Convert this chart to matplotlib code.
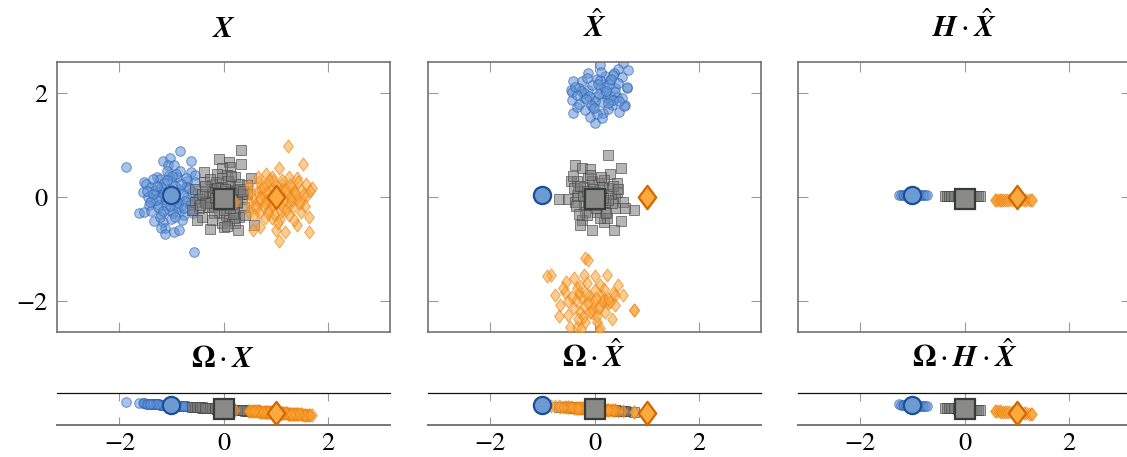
import matplotlib
matplotlib.use("Agg")
import matplotlib.pyplot as plt
from matplotlib.path import Path

plt.rcParams["font.family"] = "STIXGeneral"
plt.rcParams["mathtext.fontset"] = "stix"

# ---------------------------------------------------------------- data
# class anchors (large markers)
anchor_x = [-1.0, 0.0, 1.0]
anchor_y = [0.04, -0.045, 0.005]

# X : original samples
X_blue_x = [-1.87, -0.84, -1.16, -1.02, -1.07, -0.96, -0.62, -0.62, -0.83, -0.54,
            -1.53, -1.49, -1.54, -1.39, -1.28, -1.23, -1.05, -0.89, -0.73, -1.28,
            -1.24, -1.18, -0.70, -0.63, -0.51, -0.54, -1.44, -1.24, -1.62, -1.53,
            -1.40, -1.20, -1.05, -0.86, -0.75, -1.33, -1.16, -1.12, -1.20, -0.96,
            -0.86, -1.12, -0.56, -0.79, -0.89, -1.11, -1.37, -1.31, -0.59, -0.51,
            -1.05, -0.95, -1.10, -0.85, -1.00, -0.90, -1.20, -0.78, -1.15, -0.98,
            -0.70, -1.35, -0.60, -0.65, -1.45, -0.80, -1.00, -1.25, -0.92, -1.08,
            -1.30, -1.14, -0.74, -0.67, -0.94, -1.22, -1.02, -0.88, -1.47, -0.72,
            -1.17, -0.81, -1.36, -0.99, -0.58, -1.27, -0.93, -1.09, -0.76, -1.41]
X_blue_y = [0.57, 0.89, 0.69, 0.76, 0.62, 0.62, 0.69, 0.49, 0.50, 0.42,
            0.29, 0.26, 0.10, 0.20, 0.39, 0.35, 0.42, 0.39, 0.20, 0.10,
            0.00, 0.16, 0.00, -0.09, 0.07, 0.29, -0.15, -0.15, -0.31, -0.28,
            -0.27, -0.33, -0.25, -0.28, -0.35, -0.46, -0.49, -0.60, -0.60, -0.68,
            -0.64, -0.72, -1.05, -0.15, -0.09, -0.06, -0.06, 0.13, -0.25, -0.03,
            0.10, -0.05, -0.15, 0.15, 0.30, -0.20, 0.20, 0.05, 0.05, -0.30,
            0.30, 0.35, 0.10, -0.15, 0.00, -0.45, -0.42, -0.20, 0.45, 0.50,
            -0.05, 0.27, -0.07, 0.18, 0.22, -0.38, -0.18, -0.12, 0.12, 0.36,
            -0.26, 0.26, 0.05, 0.40, -0.30, 0.22, -0.38, 0.33, -0.22, -0.10]

X_gray_x = [0.33, -0.09, 0.10, 0.13, 0.34, -0.02, -0.13, -0.38, 0.07, 0.23,
            0.52, -0.38, -0.23, 0.13, 0.29, 0.45, -0.54, -0.35, -0.15, 0.23,
            -0.47, -0.54, -0.28, -0.25, -0.22, -0.47, -0.60, -0.41, -0.51, -0.09,
            0.04, 0.20, 0.29, 0.10, -0.03, 0.23, -0.26, 0.01, 0.28, 0.58,
            0.26, 0.36, 0.45, -0.15, -0.02, -0.35, -0.09, 0.13, 0.17,
            0.05, -0.10, 0.15, -0.20, 0.00, 0.35, -0.30, 0.20, 0.40, -0.05,
            -0.42, 0.08, -0.18, 0.31, -0.33, 0.18, -0.07, 0.42, -0.26, 0.12,
            -0.12, 0.25, -0.45, 0.02, 0.38, -0.22, 0.14, -0.36, 0.06, -0.16]
X_gray_y = [0.90, 0.73, 0.67, 0.58, 0.63, 0.55, 0.45, 0.48, 0.42, 0.39,
            0.36, 0.29, 0.23, 0.23, 0.26, 0.23, 0.16, 0.11, 0.13, 0.13,
            -0.03, -0.09, 0.00, -0.09, -0.19, -0.22, -0.25, -0.38, -0.44, -0.28,
            -0.35, -0.28, -0.38, -0.44, -0.50, -0.50, -0.62, -0.58, -0.64, -0.53,
            -0.12, -0.03, 0.06, 0.29, 0.36, -0.09, -0.15, -0.15, -0.06,
            0.05, -0.05, 0.10, 0.10, -0.25, 0.05, -0.20, -0.40, -0.20, 0.20,
            0.06, 0.30, -0.30, 0.15, -0.12, -0.32, 0.02, -0.35, 0.35, -0.22,
            0.18, -0.10, -0.15, 0.16, 0.12, -0.45, 0.40, 0.22, -0.55, -0.02]

X_orange_x = [1.24, 1.52, 1.07, 0.81, 0.94, 1.26, 1.42, 0.49, 0.68, 0.84,
              1.13, 1.32, 1.58, 1.71, 1.48, 0.55, 0.49, 0.74, 1.22, 1.39,
              1.61, 1.48, 1.26, 0.77, 0.49, 0.68, 0.87, 1.10, 1.26, 1.48,
              1.64, 0.94, 0.71, 0.57, 1.00, 1.19, 1.42, 1.64, 1.07, 0.23,
              0.81, 1.00, 0.68, 1.13, 0.94,
              1.05, 0.90, 1.15, 0.95, 1.30, 0.65, 1.35, 0.80, 1.20, 0.60,
              0.72, 1.36, 0.88, 1.54, 0.62, 1.17, 0.98, 1.44, 0.79, 1.28,
              0.53, 1.09, 0.91, 1.56, 0.70, 1.33, 0.84, 1.02, 1.45, 0.66,
              1.21, 0.96, 1.38, 0.58, 1.12, 0.86, 1.67, 0.75, 1.04, 1.30]
X_orange_y = [0.98, 0.63, 0.55, 0.45, 0.39, 0.39, 0.36, 0.23, 0.29, 0.23,
              0.26, 0.20, 0.26, 0.18, 0.13, 0.00, -0.12, 0.07, 0.04, -0.03,
              0.04, -0.09, -0.15, -0.18, -0.28, -0.31, -0.25, -0.28, -0.35, -0.28,
              -0.38, -0.41, -0.57, -0.64, -0.64, -0.67, -0.54, -0.67, -0.85, -0.09,
              -0.06, -0.09, -0.09, 0.16, 0.16,
              0.05, -0.05, -0.20, 0.30, 0.00, 0.10, -0.45, -0.40, 0.15, -0.15,
              0.15, 0.12, 0.32, 0.05, -0.22, -0.06, -0.32, 0.28, -0.12, 0.24,
              0.10, -0.42, 0.02, -0.18, -0.02, -0.20, 0.10, 0.22, -0.12, 0.38,
              -0.25, -0.15, 0.08, -0.35, 0.32, -0.30, 0.12, 0.20, -0.50, -0.05]

# X-hat : reconstructed samples
Xh_blue_x = [0.11, 0.54, 0.65, 0.46, -0.12, 0.21, 0.37, -0.42, -0.24, 0.05,
             0.30, 0.53, 0.62, -0.46, -0.30, -0.12, 0.11, 0.40, -0.43, -0.21,
             0.01, 0.24, 0.43, 0.59, -0.42, -0.18, -0.02, 0.17, 0.48, 0.00,
             -0.08, 0.33, 0.14, -0.34, -0.44, 0.63, 0.56,
             0.20, -0.05, 0.30, 0.00, -0.20, 0.10, 0.45, -0.30, 0.25, 0.05,
             0.35, -0.10,
             0.18, -0.15, 0.40, 0.08, -0.26, 0.27, 0.52, -0.06, 0.13, 0.36,
             -0.33, 0.22, -0.01, 0.47, -0.17, 0.31, 0.07, -0.38, 0.26, 0.15]
Xh_blue_y = [2.54, 2.59, 2.44, 2.47, 2.38, 2.33, 2.38, 2.23, 2.23, 2.28,
             2.25, 2.31, 2.10, 2.06, 2.09, 2.06, 2.09, 2.09, 1.87, 1.90,
             1.93, 1.90, 1.93, 1.77, 1.61, 1.67, 1.74, 1.61, 1.64, 1.42,
             1.55, 1.77, 1.83, 1.74, 2.02, 2.11, 1.75,
             2.00, 2.15, 1.95, 1.85, 2.00, 2.25, 2.20, 1.80, 1.70, 1.60,
             2.35, 1.95,
             2.12, 2.30, 2.02, 1.98, 2.05, 2.18, 1.90, 1.78, 2.40, 1.86,
             1.96, 2.05, 1.72, 1.84, 1.88, 2.28, 2.18, 2.12, 1.82, 1.52]

Xh_gray_x = [0.26, -0.38, -0.24, -0.08, 0.50, -0.45, -0.34, -0.12, 0.08, 0.30,
             0.43, 0.18, -0.68, -0.50, -0.31, -0.37, -0.21, 0.40, 0.54, 0.75,
             0.59, 0.40, -0.18, 0.05, 0.21, -0.24, 0.50, -0.27, -0.05, 0.18,
             0.37, 0.24, -0.34, -0.40, 0.27, 0.43, -0.12, 0.34,
             0.00, -0.10, 0.10, 0.05, -0.20, 0.15, -0.05, 0.20, -0.15, 0.10,
             -0.28, 0.31, -0.08, 0.22, -0.36, 0.13, -0.22, 0.36, 0.02, -0.14,
             0.26, -0.30, 0.16, -0.02, 0.46, -0.42]
Xh_gray_y = [0.81, 0.62, 0.55, 0.54, 0.55, 0.30, 0.31, 0.36, 0.27, 0.45,
             0.27, 0.33, -0.04, -0.04, 0.10, -0.09, -0.15, -0.02, -0.09, -0.25,
             -0.22, -0.22, -0.28, -0.28, -0.28, -0.44, -0.47, -0.54, -0.64, -0.49,
             -0.64, -0.41, 0.04, 0.17, 0.17, 0.10, -0.09, -0.12,
             0.10, -0.05, 0.00, -0.15, 0.20, 0.20, 0.30, -0.10, -0.35, -0.40,
             0.22, 0.05, 0.42, -0.30, -0.18, 0.38, 0.02, 0.22, -0.22, 0.12,
             -0.05, -0.32, -0.02, 0.16, 0.15, 0.40]

Xh_orange_x = [-0.18, -0.12, -0.84, -0.55, -0.40, -0.21, 0.01, 0.24, 0.46, -0.75,
               -0.56, -0.34, 0.11, 0.40, 0.54, -0.66, -0.50, -0.24, -0.02, 0.21,
               0.40, 0.76, -0.69, -0.50, -0.27, -0.05, 0.21, -0.18, 0.05, -0.34,
               0.11, -0.40, 0.33, -0.92, 0.75, -0.47, 0.09, -0.26,
               -0.10, 0.00, -0.20, 0.10, -0.30, 0.15, -0.05, 0.25, -0.15, 0.05,
               -0.36, 0.18, -0.28, 0.30, -0.08, -0.44, 0.14, -0.22, 0.36, -0.13,
               0.02, -0.31, 0.26, -0.60, 0.08, -0.17]
Xh_orange_y = [-1.18, -1.21, -1.50, -1.63, -1.56, -1.50, -1.53, -1.50, -1.69, -1.88,
               -1.82, -1.75, -1.69, -1.88, -1.88, -2.08, -2.01, -1.94, -2.01, -1.98,
               -2.08, -2.17, -2.30, -2.27, -2.21, -2.24, -2.21, -2.40, -2.40, -2.51,
               -2.52, -2.14, -2.34, -1.53, -2.17, -2.51, -2.59, -2.55,
               -1.90, -1.80, -2.10, -2.10, -1.85, -1.90, -2.15, -2.05, -1.65, -2.30,
               -1.98, -1.78, -1.72, -2.02, -2.22, -1.92, -2.00, -2.32, -1.84, -2.04,
               -1.95, -2.35, -1.96, -1.76, -2.14, -1.86]

# H . X-hat : samples collapsed onto the class line
HXh_blue_x = [-1.25, -1.22, -1.19, -1.16, -1.13, -1.09, -1.04, -1.01, -0.97,
              -0.93, -0.89, -0.86, -0.82, -0.79, -0.76, -0.73]
HXh_gray_x = [-0.37, -0.33, -0.29, -0.25, -0.20, -0.13, -0.08, -0.03, 0.02,
              0.06, 0.11, 0.17, 0.22, 0.25, 0.29]
HXh_orange_x = [0.58, 0.61, 0.64, 0.68, 0.71, 0.74, 0.78, 0.82, 0.86, 0.92,
                0.97, 1.03, 1.09, 1.14, 1.19, 1.24, 1.28, 1.30]
HXh_y = [0.045, 0.02, -0.05]

# slope of the 1-D projections inside the strips
strip_tilt = -0.07

# ---------------------------------------------------------------- styles
diamond = Path([(0, 1), (0.75, 0), (0, -1), (-0.75, 0), (0, 1)], closed=True)

small_style = [
    dict(marker="o", ms=6.9, mfc=(0.38, 0.58, 0.84, 0.55), mec=(0.18, 0.38, 0.70, 0.65)),
    dict(marker="s", ms=6.5, mfc=(0.48, 0.48, 0.48, 0.55), mec=(0.28, 0.28, 0.28, 0.65)),
    dict(marker=diamond, ms=9.4, mfc=(0.99, 0.64, 0.22, 0.55), mec=(0.92, 0.50, 0.04, 0.65)),
]
big_style = [
    dict(marker="o", ms=12.4, mfc="#6c9bd2", mec="#1f4e96"),
    dict(marker="s", ms=13.7, mfc="#8a8b87", mec="#373b3b"),
    dict(marker=diamond, ms=16.8, mfc="#fcaa40", mec="#d26600"),
]

W, H = 1127, 457
fig = plt.figure(figsize=(W / 100, H / 100), dpi=100)
fig.patch.set_facecolor("white")

col_left = [57, 428, 798]
col_w = 333
top_box = (62, 332)
strip_box = (393, 425)

XLIM = (-3.2, 3.2)
FS = 19
TFS = 22


def px_axes(x0, y0, y1):
    return fig.add_axes([x0 / W, (H - y1) / H, col_w / W, (y1 - y0) / H])


def style_top(ax, show_ylabels):
    ax.set_xlim(*XLIM)
    ax.set_ylim(-2.6, 2.6)
    ax.set_xticks([-2, 0, 2])
    ax.set_yticks([-2, 0, 2])
    ax.tick_params(direction="in", length=7.2, width=0.8, color="#9a9a9a",
                   top=True, right=True, labelbottom=False,
                   labelleft=show_ylabels, labelsize=FS, pad=7)
    for s in ax.spines.values():
        s.set_color("#666666")
        s.set_linewidth(1.1)


def style_strip(ax):
    ax.set_xlim(*XLIM)
    ax.set_ylim(-16 / 52, 16 / 52)
    ax.set_xticks([-2, 0, 2])
    ax.set_yticks([])
    ax.tick_params(axis="x", direction="in", length=6, width=0.8, color="#9a9a9a",
                   top=True, bottom=True, labelsize=FS, pad=5)
    ax.spines["left"].set_visible(False)
    ax.spines["right"].set_visible(False)
    ax.spines["top"].set_color("#111111")
    ax.spines["top"].set_linewidth(0.9)
    ax.spines["bottom"].set_color("#777777")
    ax.spines["bottom"].set_linewidth(1.4)


top_titles = [r"$\boldsymbol{X}$", r"$\hat{\boldsymbol{X}}$",
              r"$\boldsymbol{H}\cdot\hat{\boldsymbol{X}}$"]
strip_titles = [r"$\mathbf{\Omega}\cdot\boldsymbol{X}$",
                r"$\mathbf{\Omega}\cdot\hat{\boldsymbol{X}}$",
                r"$\mathbf{\Omega}\cdot\boldsymbol{H}\cdot\hat{\boldsymbol{X}}$"]

top_x = [
    [X_blue_x, X_gray_x, X_orange_x],
    [Xh_blue_x, Xh_gray_x, Xh_orange_x],
    [HXh_blue_x, HXh_gray_x, HXh_orange_x],
]
top_y = [
    [X_blue_y, X_gray_y, X_orange_y],
    [Xh_blue_y, Xh_gray_y, Xh_orange_y],
    [[HXh_y[k]] * len(top_x[2][k]) for k in range(3)],
]

for c in range(3):
    ax = px_axes(col_left[c], *top_box)
    for k in range(3):
        ax.plot(top_x[c][k], top_y[c][k], ls="none", mew=0.7, zorder=2 + k,
                **small_style[k])
    for k in range(3):
        ax.plot([anchor_x[k]], [anchor_y[k]], ls="none", mew=1.6, zorder=10 + k,
                **big_style[k])
    style_top(ax, c == 0)
    ax.set_title(top_titles[c], fontsize=TFS, pad=18)

    # one-dimensional projection: first coordinate of each sample
    sx = px_axes(col_left[c], *strip_box)
    for k in range(3):
        xs = top_x[c][k]
        sx.plot(xs, [strip_tilt * v for v in xs], ls="none", mew=0.7,
                zorder=2 + k, clip_on=False, **small_style[k])
    for k in range(3):
        sx.plot([anchor_x[k]], [strip_tilt * anchor_x[k]], ls="none", mew=1.6,
                zorder=10 + k, clip_on=False, **big_style[k])
    style_strip(sx)
    sx.set_title(strip_titles[c], fontsize=TFS, pad=19)

fig.savefig("out.png", dpi=100, facecolor="white")
